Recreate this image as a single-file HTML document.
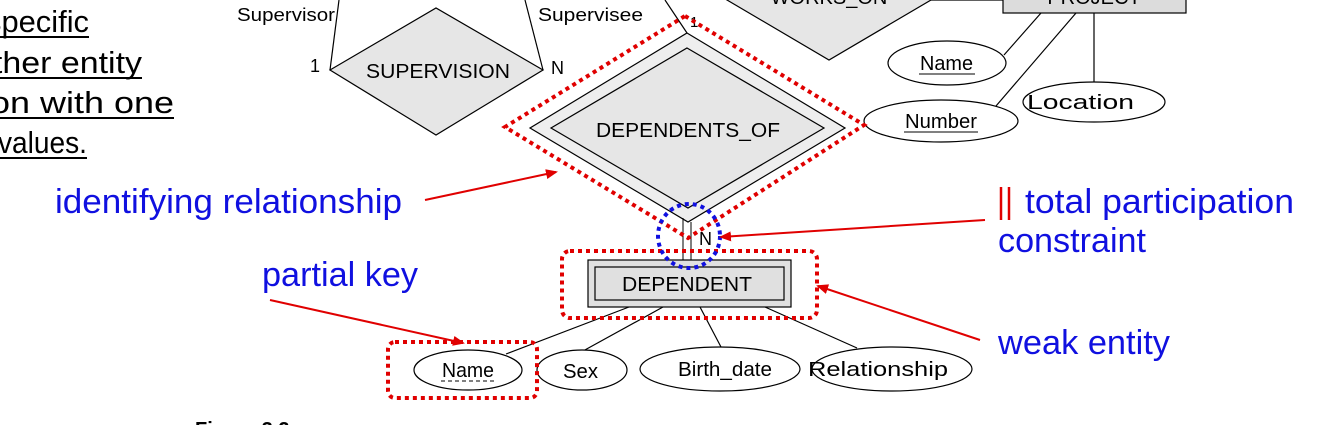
<!DOCTYPE html>
<html><head><meta charset="utf-8"><style>
html,body{margin:0;padding:0;background:#fff;}
svg{display:block;}
</style></head><body>
<svg width="1328" height="425" viewBox="0 0 1328 425" xmlns="http://www.w3.org/2000/svg" font-family="Liberation Sans, sans-serif">
<defs>
<marker id="ah" markerWidth="12" markerHeight="10" refX="10" refY="5" orient="auto" markerUnits="userSpaceOnUse">
<path d="M0,0 L12,5 L0,10 z" fill="#e00000"/>
</marker>
</defs>
<!-- left text -->
<g font-size="31" fill="#000" lengthAdjust="spacingAndGlyphs">
<text x="-14" y="32" textLength="103" lengthAdjust="spacingAndGlyphs">specific</text>
<text x="-26" y="73" textLength="168" lengthAdjust="spacingAndGlyphs">other entity</text>
<text x="-28" y="113" textLength="202" lengthAdjust="spacingAndGlyphs">tion with one</text>
<text x="-2" y="153" textLength="89" lengthAdjust="spacingAndGlyphs">values.</text>
</g>
<g stroke="#000" stroke-width="2">
<line x1="0" y1="37" x2="89" y2="37"/>
<line x1="0" y1="78" x2="142" y2="78"/>
<line x1="0" y1="118" x2="174" y2="118"/>
<line x1="0" y1="158" x2="87" y2="158"/>
</g>
<!-- supervision -->
<g font-size="18" fill="#000">
<text x="237" y="21" textLength="98" lengthAdjust="spacingAndGlyphs">Supervisor</text>
<text x="538" y="21" textLength="105" lengthAdjust="spacingAndGlyphs">Supervisee</text>
<text x="310" y="72">1</text>
<text x="551" y="74">N</text>
</g>
<g stroke="#000" stroke-width="1.2" fill="none">
<line x1="339" y1="0" x2="330" y2="70"/>
<line x1="525" y1="0" x2="543" y2="70"/>
<line x1="665" y1="0" x2="687" y2="33"/>
</g>
<polygon points="330,70 436,8 543,70 436,135" fill="#e6e6e6" stroke="#000" stroke-width="1.2"/>
<text x="366" y="78" font-size="20" textLength="144" lengthAdjust="spacingAndGlyphs">SUPERVISION</text>
<!-- works_on / project -->
<polygon points="727,0 829,60 931,0 829,-60" fill="#e6e6e6" stroke="#000" stroke-width="1.2"/>
<text x="829" y="4" font-size="20" text-anchor="middle">WORKS_ON</text>
<line x1="931" y1="0" x2="1003" y2="0" stroke="#000" stroke-width="1.2"/>
<rect x="1003" y="-20" width="183" height="33" fill="#dcdcdc" stroke="#000" stroke-width="1.2"/>
<text x="1094" y="4" font-size="20" text-anchor="middle">PROJECT</text>
<g stroke="#000" stroke-width="1.2" fill="none">
<line x1="1041" y1="13" x2="1004" y2="55"/>
<line x1="1076" y1="13" x2="996" y2="106"/>
<line x1="1094" y1="13" x2="1094" y2="82"/>
</g>
<g fill="#fff" stroke="#000" stroke-width="1.2">
<ellipse cx="947" cy="63" rx="59" ry="22"/>
<ellipse cx="941" cy="121" rx="77" ry="21"/>
<ellipse cx="1094" cy="102" rx="71" ry="20"/>
</g>
<g font-size="20">
<text x="920" y="70" textLength="53" lengthAdjust="spacingAndGlyphs">Name</text>
<text x="905" y="128" textLength="72" lengthAdjust="spacingAndGlyphs">Number</text>
<text x="1027" y="109" textLength="107" lengthAdjust="spacingAndGlyphs">Location</text>
</g>
<g stroke="#000" stroke-width="1"><line x1="919" y1="74" x2="975" y2="74"/><line x1="904" y1="132" x2="978" y2="132"/></g>
<!-- dependents_of -->
<text x="690" y="27" font-size="15">1</text>
<polygon points="687,33 845,128 688,222 530,128" fill="#eeeeee" stroke="#000" stroke-width="1.2"/>
<polygon points="687,48 824,128 688,208 551,128" fill="#e6e6e6" stroke="#000" stroke-width="1.2"/>
<text x="596" y="137" font-size="20" textLength="184" lengthAdjust="spacingAndGlyphs">DEPENDENTS_OF</text>
<!-- double line -->
<g stroke="#000" stroke-width="1"><line x1="683" y1="218" x2="683" y2="260"/><line x1="691" y1="222" x2="691" y2="260"/></g>
<text x="699" y="245" font-size="18">N</text>
<!-- dependent -->
<rect x="588" y="260" width="203" height="47" fill="#e0e0e0" stroke="#000" stroke-width="1.2"/>
<rect x="595" y="267" width="189" height="33" fill="#e0e0e0" stroke="#000" stroke-width="1.2"/>
<text x="622" y="291" font-size="20" textLength="130" lengthAdjust="spacingAndGlyphs">DEPENDENT</text>
<g stroke="#000" stroke-width="1.2">
<line x1="629" y1="307" x2="506" y2="354"/>
<line x1="663" y1="307" x2="583" y2="351"/>
<line x1="700" y1="307" x2="721" y2="347"/>
<line x1="765" y1="307" x2="857" y2="348"/>
</g>
<g fill="#fff" stroke="#000" stroke-width="1.2">
<ellipse cx="468" cy="370" rx="54" ry="20"/>
<ellipse cx="582" cy="370" rx="45" ry="20"/>
<ellipse cx="720" cy="369" rx="80" ry="22"/>
<ellipse cx="892" cy="369" rx="80" ry="22"/>
</g>
<g font-size="20">
<text x="442" y="377" textLength="52" lengthAdjust="spacingAndGlyphs">Name</text>
<text x="563" y="378" textLength="35" lengthAdjust="spacingAndGlyphs">Sex</text>
<text x="678" y="376" textLength="94" lengthAdjust="spacingAndGlyphs">Birth_date</text>
<text x="808" y="376" textLength="140" lengthAdjust="spacingAndGlyphs">Relationship</text>
</g>
<line x1="441" y1="381" x2="494" y2="381" stroke="#000" stroke-width="1" stroke-dasharray="4,3"/>
<!-- red dotted highlights -->
<g fill="none" stroke="#e00000" stroke-width="4" stroke-dasharray="4,4">
<polygon points="685,16 864,125 688,238 505,127"/>
<rect x="562" y="251" width="255" height="67" rx="8"/>
<rect x="388" y="342" width="149" height="56" rx="7"/>
</g>
<ellipse cx="689" cy="236" rx="31" ry="32" fill="none" stroke="#1010e0" stroke-width="4" stroke-dasharray="4,4"/>
<!-- arrows -->
<g stroke="#e00000" stroke-width="2" marker-end="url(#ah)">
<line x1="425" y1="200" x2="556" y2="172"/>
<line x1="985" y1="220" x2="721" y2="237"/>
<line x1="270" y1="300" x2="463" y2="343"/>
<line x1="980" y1="340" x2="818" y2="286"/>
</g>
<!-- blue labels -->
<g font-size="34" fill="#1010e0">
<text x="55" y="213" textLength="347" lengthAdjust="spacingAndGlyphs">identifying relationship</text>
<text x="262" y="286" textLength="156" lengthAdjust="spacingAndGlyphs">partial key</text>
<text x="1025" y="213" textLength="269" lengthAdjust="spacingAndGlyphs">total participation</text>
<text x="998" y="252" textLength="148" lengthAdjust="spacingAndGlyphs">constraint</text>
<text x="998" y="354" textLength="172" lengthAdjust="spacingAndGlyphs">weak entity</text>
</g>
<g stroke="#e00000" stroke-width="2.5"><line x1="1001" y1="187" x2="1001" y2="220"/><line x1="1009" y1="187" x2="1009" y2="220"/></g>
<text x="195" y="436" font-size="20" font-weight="bold">Figure 3.2</text>
</svg>
</body></html>
